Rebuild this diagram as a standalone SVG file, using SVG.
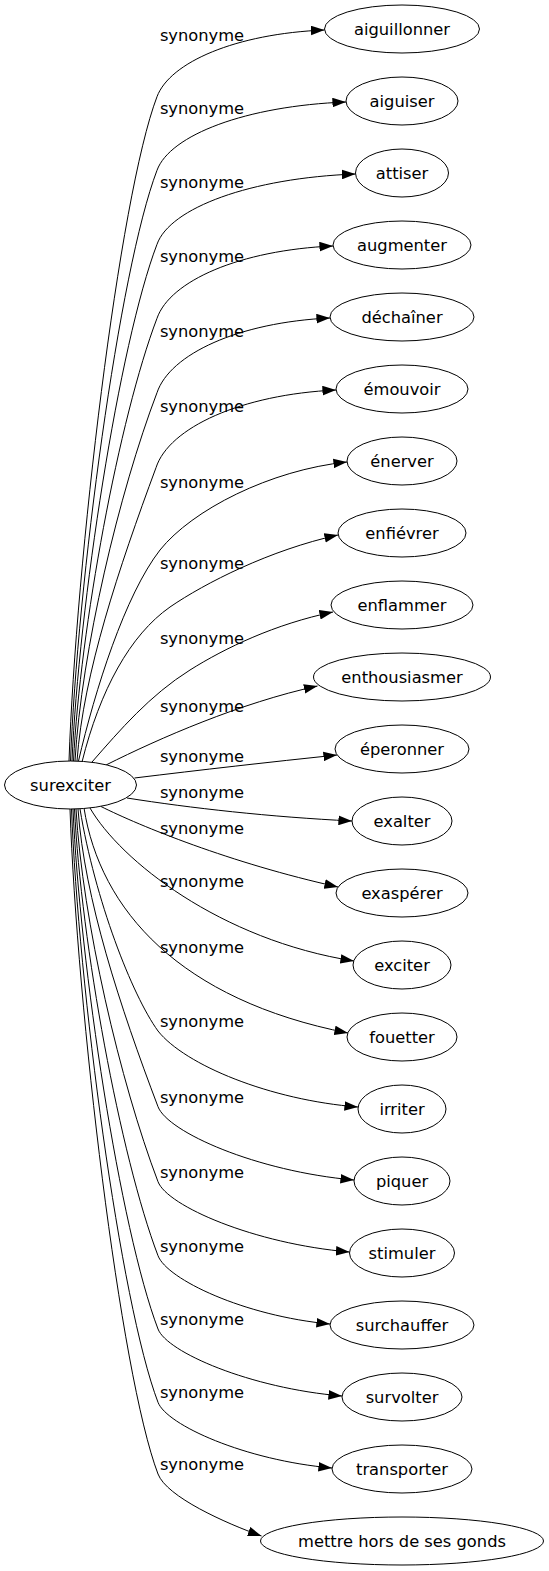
<svg xmlns="http://www.w3.org/2000/svg" width="549" height="1571" viewBox="0 0 549 1571">
<defs>
<marker id="arrow" viewBox="0 0 14 10" refX="13.6" refY="5" markerWidth="14" markerHeight="10" markerUnits="userSpaceOnUse" orient="auto">
<path d="M0,0.2 L13.6,5 L0,9.8 z" fill="#000"/>
</marker>
</defs>
<style>
.node ellipse{fill:#fff;stroke:#000;stroke-width:1}
text{font-family:"DejaVu Sans","Noto Sans",sans-serif;font-size:16.3px;text-anchor:middle;fill:#000}
.edge path{fill:none;stroke:#000;stroke-width:1;marker-end:url(#arrow)}
</style>
<rect width="549" height="1571" fill="#fff"/>
<g id="connectors">
<g class="edge" id="e1"><path d="M69,761 C76,561.7 119,196.7 157,96.7 C170,62.2 235.7,33.7 324.5,30"/><text x="202" y="40.7">synonyme</text></g>
<g class="edge" id="e2"><path d="M70.5,761 C77.4,583.8 119,270.3 157,170.3 C170,135 245.8,105.9 346,102"/><text x="202" y="114.3">synonyme</text></g>
<g class="edge" id="e3"><path d="M72,761 C78.8,606 119,344.3 157,244.3 C170,207.9 250.3,178 355.5,174"/><text x="202" y="188.3">synonyme</text></g>
<g class="edge" id="e4"><path d="M73.5,761 C80.2,628.2 119,418.3 157,318.3 C170,280.9 239.7,250.1 333,246"/><text x="202" y="262.3">synonyme</text></g>
<g class="edge" id="e5"><path d="M75,761 C81.6,650.5 119,492.7 157,392.7 C170,354.1 238.3,322.3 330,318"/><text x="202" y="336.7">synonyme</text></g>
<g class="edge" id="e6"><path d="M77,761 C83.4,673 119,567.7 156,467.7 C169,427.6 241.1,394.5 336,390"/><text x="202" y="411.7">synonyme</text></g>
<g class="edge" id="e7"><path d="M78.5,761 C95,690 125,595 160,550 C192,510 270,470 347,462"/><text x="202" y="488.3">synonyme</text></g>
<g class="edge" id="e8"><path d="M82,762 C100,690 130,635 170,607 C205,583 270,550 338,535"/><text x="202" y="568.5">synonyme</text></g>
<g class="edge" id="e9"><path d="M92,762 C120,730 150,695 190,670 C225,648 275,624 333,612"/><text x="202" y="644">synonyme</text></g>
<g class="edge" id="e10"><path d="M106,765 C160,738 240,703 317.5,686"/><text x="202" y="711.7">synonyme</text></g>
<g class="edge" id="e11"><path d="M134.5,778 C200,770 270,762 337,755"/><text x="202" y="762.3">synonyme</text></g>
<g class="edge" id="e12"><path d="M127,798 C190,808 270,817 352,821"/><text x="202" y="798.3">synonyme</text></g>
<g class="edge" id="e13"><path d="M101,806.5 C140,826 230,863 338,887"/><text x="202" y="834">synonyme</text></g>
<g class="edge" id="e14"><path d="M90,808 C120,860 220,940 354,961"/><text x="202" y="886.7">synonyme</text></g>
<g class="edge" id="e15"><path d="M84,808 C100,910 180,1000 348,1033"/><text x="202" y="952.7">synonyme</text></g>
<g class="edge" id="e16"><path d="M80,809 C95,900 132,995 158,1031 C185,1065 270,1100 358,1107"/><text x="202" y="1027.3">synonyme</text></g>
<g class="edge" id="e17"><path d="M78,809 C84.4,898.3 120,1006.7 158,1106.7 C167.7,1132 256,1171.3 354,1180"/><text x="202" y="1102.7">synonyme</text></g>
<g class="edge" id="e18"><path d="M76,809 C82.6,920.8 120,1081.7 158,1181.7 C167.3,1205.9 253.8,1243.7 349.5,1252"/><text x="202" y="1177.7">synonyme</text></g>
<g class="edge" id="e19"><path d="M74.5,809 C81.2,943 120,1155.7 158,1255.7 C167,1279.3 244,1316 330,1324"/><text x="202" y="1251.7">synonyme</text></g>
<g class="edge" id="e20"><path d="M73,809 C79.8,965 120,1229 158,1329 C166.8,1352.1 250,1388.2 342,1396"/><text x="202" y="1325">synonyme</text></g>
<g class="edge" id="e21"><path d="M71.5,809 C78.4,987 120,1302.3 158,1402.3 C166.7,1425 245,1460.3 332,1468"/><text x="202" y="1398.3">synonyme</text></g>
<g class="edge" id="e22"><path d="M70,809 C77,1008.5 120,1374 158,1474 C166.7,1496.8 225,1523 261.5,1536"/><text x="202" y="1470">synonyme</text></g>
</g>
<g id="n0" class="node"><ellipse cx="70.5" cy="785" rx="66" ry="24"/><text x="70.5" y="791">surexciter</text></g>
<g id="n1" class="node"><ellipse cx="402" cy="29" rx="77.5" ry="24"/><text x="402" y="34.8">aiguillonner</text></g>
<g id="n2" class="node"><ellipse cx="402" cy="101" rx="56" ry="24"/><text x="402" y="106.8">aiguiser</text></g>
<g id="n3" class="node"><ellipse cx="402" cy="173" rx="46.5" ry="24"/><text x="402" y="178.8">attiser</text></g>
<g id="n4" class="node"><ellipse cx="402" cy="245" rx="69" ry="24"/><text x="402" y="250.8">augmenter</text></g>
<g id="n5" class="node"><ellipse cx="402" cy="317" rx="72" ry="24"/><text x="402" y="322.8">déchaîner</text></g>
<g id="n6" class="node"><ellipse cx="402" cy="389" rx="66" ry="24"/><text x="402" y="394.8">émouvoir</text></g>
<g id="n7" class="node"><ellipse cx="402" cy="461" rx="55" ry="24"/><text x="402" y="466.8">énerver</text></g>
<g id="n8" class="node"><ellipse cx="402" cy="533" rx="64" ry="24"/><text x="402" y="538.8">enfiévrer</text></g>
<g id="n9" class="node"><ellipse cx="402" cy="605" rx="71" ry="24"/><text x="402" y="610.8">enflammer</text></g>
<g id="n10" class="node"><ellipse cx="402" cy="677" rx="88.5" ry="24"/><text x="402" y="682.8">enthousiasmer</text></g>
<g id="n11" class="node"><ellipse cx="402" cy="749" rx="67" ry="24"/><text x="402" y="754.8">éperonner</text></g>
<g id="n12" class="node"><ellipse cx="402" cy="821" rx="50" ry="24"/><text x="402" y="826.8">exalter</text></g>
<g id="n13" class="node"><ellipse cx="402" cy="893" rx="66" ry="24"/><text x="402" y="898.8">exaspérer</text></g>
<g id="n14" class="node"><ellipse cx="402" cy="965" rx="49" ry="24"/><text x="402" y="970.8">exciter</text></g>
<g id="n15" class="node"><ellipse cx="402" cy="1037" rx="55" ry="24"/><text x="402" y="1042.8">fouetter</text></g>
<g id="n16" class="node"><ellipse cx="402" cy="1109" rx="44" ry="24"/><text x="402" y="1114.8">irriter</text></g>
<g id="n17" class="node"><ellipse cx="402" cy="1181" rx="48" ry="24"/><text x="402" y="1186.8">piquer</text></g>
<g id="n18" class="node"><ellipse cx="402" cy="1253" rx="52.5" ry="24"/><text x="402" y="1258.8">stimuler</text></g>
<g id="n19" class="node"><ellipse cx="402" cy="1325" rx="72" ry="24"/><text x="402" y="1330.8">surchauffer</text></g>
<g id="n20" class="node"><ellipse cx="402" cy="1397" rx="60" ry="24"/><text x="402" y="1402.8">survolter</text></g>
<g id="n21" class="node"><ellipse cx="402" cy="1469" rx="70" ry="24"/><text x="402" y="1474.8">transporter</text></g>
<g id="n22" class="node"><ellipse cx="402" cy="1541" rx="141.5" ry="24"/><text x="402" y="1546.8">mettre hors de ses gonds</text></g>
</svg>
